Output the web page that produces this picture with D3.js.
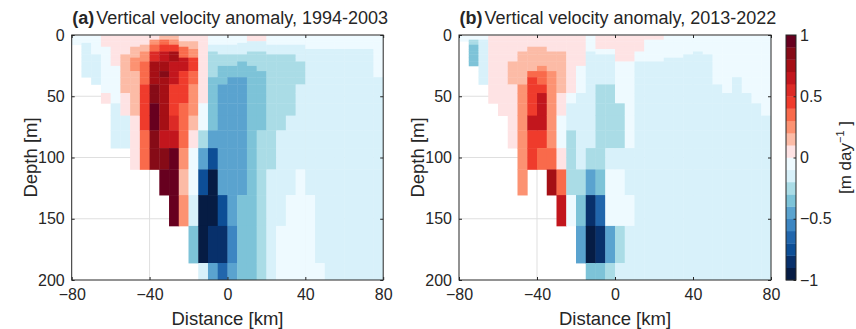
<!DOCTYPE html>
<html>
<head>
<meta charset="utf-8">
<script src="https://cdn.jsdelivr.net/npm/d3@7"></script>
<style>
body { margin: 0; background: #fff; }
text { font-family: "Liberation Sans", Arial, sans-serif; fill: #262626; }
</style>
</head>
<body>
<script>
var _ = null; // land / no data

// cell edges: distance bins (km) and model depth levels (m)
var distEdges = [-80,-75,-70,-65,-60,-55,-50,-45,-40,-35,-30,-25,-20,-15,-10,-5,0,5,10,15,20,25,30,35,40,45,50,55,60,65,70,75,80];
var depthEdges = [0.494,1.541,2.646,3.819,5.078,6.441,7.93,9.573,11.405,13.467,15.81,18.496,21.599,25.211,29.445,34.434,40.344,47.374,55.764,65.807,77.854,92.326,109.729,130.666,155.851,186.126,222.475];

var xTicks = [-80,-40,0,40,80];
var yTicks = [0,50,100,150,200];
var cbTicks = [-1,-0.5,0,0.5,1];

// 20 colour levels from -1 to 1 m/day
var levelColors = ["#061c44","#08306b","#0d4e96","#2166ac","#3d86c2","#5aa3cf","#7dc3d8","#aadce6","#d8f1fa","#eefaff",
                   "#fee3e4","#fcbba6","#fc9272","#f96a4b","#ef3b2c","#dc2a26","#c2161d","#a50f15","#860b17","#67001f"];

var titles = ["Vertical velocity anomaly, 1994-2003", "Vertical velocity anomaly, 2013-2022"];
var tags = ["(a)", "(b)"];

// vertical velocity anomaly [m/day], one line per distance bin, values top -> bottom by depth layer
var wA = [
 [-.05,-.05,-.05,-.05,-.05,-.05,_,_,_,_,_,_,_,_,_,_,_,_,_,_,_,_,_,_,_,_],
 [-.05,-.05,-.05,-.05,-.05,-.15,-.15,-.15,-.15,-.15,-.15,-.15,-.15,-.15,-.15,_,_,_,_,_,_,_,_,_,_,_],
 [-.05,-.05,-.05,-.05,-.05,-.05,-.05,-.05,-.05,-.05,-.15,-.15,-.15,-.15,-.15,-.15,_,_,_,_,_,_,_,_,_,_],
 [.05,.05,.05,.05,.05,.05,.05,-.05,-.05,-.05,-.05,-.05,-.05,-.05,-.05,-.05,-.05,.05,_,_,_,_,_,_,_,_],
 [.05,.05,.05,.05,.05,.05,.05,.05,.05,.05,.05,.05,.05,-.05,-.05,-.05,-.05,-.05,-.15,-.15,-.15,_,_,_,_,_],
 [.05,.05,.05,.05,.05,.05,.05,.05,.05,.05,.15,.15,.15,.15,.15,.15,.15,.05,.05,-.15,-.15,_,_,_,_,_],
 [.05,.05,.05,.05,.05,.05,.05,.15,.15,.15,.15,.25,.25,.25,.15,.15,.15,.15,.15,.05,.05,.05,_,_,_,_],
 [.05,.05,.05,.05,.05,.05,.15,.15,.15,.25,.25,.25,.35,.35,.35,.35,.45,.45,.45,.45,.35,.35,_,_,_,_],
 [.05,.05,.05,.25,.25,.25,.35,.35,.35,.55,.55,.55,.75,.75,.75,.75,.85,.85,.95,.95,.85,.85,_,_,_,_],
 [.15,.15,.15,.35,.35,.35,.45,.45,.45,.65,.65,.65,.75,.75,.85,.75,.75,.75,.75,.75,.65,.85,.95,_,_,_],
 [.15,.15,.15,.25,.25,.25,.45,.45,.45,.75,.75,.75,.65,.65,.65,.65,.45,.45,.45,.55,.65,.95,.95,.95,_,_],
 [.05,.05,.05,.05,.15,.15,.15,.35,.35,.35,.35,.65,.65,.65,.45,.45,.45,.45,.35,.35,.35,.25,.15,.25,_,_],
 [.05,.05,.05,.05,.15,.15,.15,.15,.25,.25,.25,.45,.45,.45,.35,.35,.25,.25,.25,.15,.05,-.05,-.05,-.15,-.35,_],
 [.05,.05,.05,.05,.05,.05,.05,.05,.05,.05,.05,.05,.05,.05,.05,.05,.05,.05,-.05,-.05,-.25,-.45,-.75,-.95,-.95,-.15],
 [-.05,-.05,-.05,-.05,-.05,-.05,-.15,-.15,-.15,-.25,-.25,-.25,-.25,-.25,-.25,-.35,-.35,-.35,-.35,-.35,-.45,-.75,-.95,-.95,-.85,-.45],
 [-.05,-.05,-.05,-.05,-.05,-.05,-.15,-.15,-.15,-.15,-.25,-.25,-.25,-.35,-.35,-.35,-.45,-.45,-.45,-.45,-.45,-.45,-.45,-.75,-.85,-.65],
 [-.05,-.05,-.05,-.05,-.05,-.05,-.15,-.15,-.15,-.15,-.25,-.25,-.25,-.35,-.35,-.45,-.45,-.45,-.45,-.45,-.45,-.45,-.45,-.45,-.55,-.45],
 [-.05,-.05,-.05,-.05,-.05,-.15,-.15,-.15,-.15,-.15,-.25,-.25,-.35,-.35,-.35,-.45,-.45,-.45,-.45,-.45,-.45,-.45,-.45,-.35,-.35,-.35],
 [.05,.05,.05,.05,-.15,-.15,-.15,-.15,-.15,-.25,-.25,-.25,-.25,-.35,-.35,-.35,-.35,-.35,-.35,-.35,-.35,-.35,-.35,-.35,-.35,-.35],
 [.05,.05,.05,.05,-.15,-.15,-.15,-.15,-.15,-.25,-.25,-.25,-.25,-.25,-.35,-.35,-.35,-.35,-.35,-.35,-.25,-.25,-.25,-.25,-.25,-.25],
 [-.05,-.05,-.05,-.05,-.05,-.05,-.15,-.15,-.15,-.15,-.25,-.25,-.25,-.25,-.25,-.25,-.25,-.25,-.25,-.25,-.25,-.25,-.15,-.15,-.15,-.15],
 [-.05,-.05,-.05,-.05,-.05,-.05,-.15,-.15,-.15,-.15,-.25,-.25,-.25,-.25,-.25,-.25,-.25,-.25,-.25,-.25,-.15,-.15,-.15,-.15,-.05,-.05],
 [-.05,-.05,-.05,-.05,-.05,-.05,-.15,-.15,-.15,-.15,-.25,-.25,-.25,-.25,-.25,-.25,-.25,-.25,-.25,-.15,-.15,-.15,-.15,-.05,-.05,-.05],
 [-.05,-.05,-.05,-.05,-.05,-.05,-.15,-.15,-.15,-.15,-.15,-.15,-.25,-.25,-.25,-.25,-.15,-.15,-.15,-.15,-.15,-.15,-.05,-.05,-.05,-.05],
 [-.05,-.05,-.05,-.05,-.05,-.05,-.05,-.05,-.15,-.15,-.15,-.15,-.15,-.15,-.15,-.15,-.15,-.15,-.15,-.15,-.15,-.15,-.15,-.05,-.05,-.05],
 [-.05,-.05,-.05,-.05,-.05,-.05,-.05,-.05,-.15,-.15,-.15,-.15,-.15,-.15,-.15,-.15,-.15,-.15,-.15,-.15,-.15,-.15,-.15,-.15,-.15,-.05],
 [-.05,-.05,-.05,-.05,-.05,-.05,-.05,-.05,-.15,-.15,-.15,-.15,-.15,-.15,-.15,-.15,-.15,-.15,-.15,-.15,-.15,-.15,-.15,-.15,-.15,-.15],
 [-.05,-.05,-.05,-.05,-.05,-.05,-.05,-.05,-.15,-.15,-.15,-.15,-.15,-.15,-.15,-.15,-.15,-.15,-.15,-.15,-.15,-.15,-.15,-.15,-.15,-.15],
 [-.05,-.05,-.05,-.05,-.05,-.05,-.05,-.05,-.15,-.15,-.15,-.15,-.15,-.15,-.15,-.15,-.15,-.15,-.15,-.15,-.15,-.15,-.15,-.15,-.15,-.15],
 [-.05,-.05,-.05,-.05,-.05,-.05,-.05,-.05,-.15,-.15,-.15,-.15,-.15,-.15,-.15,-.15,-.15,-.15,-.15,-.15,-.15,-.15,-.15,-.15,-.15,-.15],
 [-.05,-.05,-.05,-.05,-.05,-.05,-.05,-.05,-.15,-.15,-.15,-.15,-.15,-.15,-.15,-.15,-.15,-.15,-.15,-.15,-.15,-.15,-.15,-.15,-.15,-.15],
 [-.05,-.05,-.05,-.05,-.05,-.05,-.05,-.05,-.05,-.05,-.05,-.05,-.05,-.05,-.05,-.15,-.15,-.15,-.15,-.15,-.15,-.15,-.15,-.15,-.15,-.15]
];

var wB = [
 [-.05,-.05,-.05,-.05,_,_,_,_,_,_,_,_,_,_,_,_,_,_,_,_,_,_,_,_,_,_],
 [-.05,-.05,-.05,-.25,-.25,-.25,-.35,-.35,-.35,-.35,-.35,-.35,-.35,_,_,_,_,_,_,_,_,_,_,_,_,_],
 [-.05,-.05,-.05,-.15,-.15,-.15,-.15,-.15,-.15,-.15,-.15,-.15,-.15,-.15,-.15,-.15,_,_,_,_,_,_,_,_,_,_],
 [.05,.05,.05,.05,.05,.05,.05,.05,.05,.05,.05,.05,.05,.05,.05,.05,.05,.05,_,_,_,_,_,_,_,_],
 [.05,.05,.05,.05,.05,.05,.05,.05,.05,.05,.05,.05,.05,.05,.05,.05,.05,.05,.05,_,_,_,_,_,_,_],
 [.05,.05,.05,.05,.05,.05,.05,.05,.05,.05,.05,.05,.15,.15,.15,.15,.05,.05,.05,.05,.05,_,_,_,_,_],
 [.05,.05,.05,.05,.05,.05,.05,.05,.05,.15,.15,.15,.15,.15,.15,.15,.25,.25,.25,.25,.25,.25,.25,_,_,_],
 [.05,.05,.05,.05,.05,.05,.05,.15,.15,.15,.15,.15,.15,.15,.35,.45,.45,.45,.45,.65,.45,.45,_,_,_,_],
 [.05,.05,.05,.05,.05,.05,.05,.15,.15,.15,.15,.15,.15,.25,.35,.35,.45,.65,.65,.65,.45,.35,_,_,_,_],
 [.05,.05,.05,.05,.05,.05,.05,.05,.05,.15,.15,.15,.15,.15,.25,.25,.25,.25,.25,.25,.25,.35,.75,_,_,_],
 [.05,.05,.05,.05,.05,.05,.05,.05,.05,.15,.15,.15,.15,.15,.15,.15,.15,.05,.05,-.05,-.05,.05,.35,.65,_,_],
 [.05,.05,.05,.05,.05,.05,.05,.05,.05,.05,.05,.05,.05,.05,.05,.05,.05,-.05,-.15,-.15,-.25,-.25,-.25,-.05,_,_],
 [.05,.05,.05,.05,.05,.05,.05,.05,.05,.05,.05,.05,.05,-.05,-.05,-.05,-.05,-.15,-.15,-.15,-.15,-.15,-.25,-.35,-.45,_],
 [-.05,-.05,-.05,-.05,-.05,-.05,-.05,-.05,-.05,-.15,-.15,-.15,-.15,-.15,-.15,-.15,-.15,-.15,-.15,-.15,-.15,-.25,-.45,-.85,-.95,-.35],
 [.05,.05,.05,.05,.05,.05,.05,.05,-.05,-.05,-.15,-.15,-.15,-.15,-.15,-.15,-.25,-.25,-.25,-.25,-.25,-.25,-.35,-.65,-.85,-.35],
 [.05,.05,.05,.05,.05,.05,.05,.05,-.05,-.05,-.15,-.15,-.15,-.15,-.15,-.15,-.25,-.25,-.25,-.25,-.25,-.15,-.05,-.05,-.45,-.25],
 [.05,.05,.05,.05,.05,.05,.05,.05,.05,.05,.05,.05,-.05,-.05,-.05,-.05,-.05,-.05,-.25,-.25,-.25,-.15,-.05,-.05,-.25,-.15],
 [.05,.05,.05,.05,.05,.05,.05,.05,.05,.05,.05,.05,-.05,-.05,-.05,-.05,-.05,-.05,-.05,-.05,-.05,-.15,-.15,-.05,-.15,-.15],
 [.05,.05,.05,.05,.05,.05,.05,.05,.05,-.05,-.05,-.05,-.15,-.15,-.15,-.15,-.15,-.15,-.15,-.15,-.15,-.15,-.15,-.15,-.15,-.15],
 [.05,.05,.05,-.05,-.05,-.05,-.05,-.05,-.05,-.05,-.05,-.05,-.15,-.15,-.15,-.15,-.15,-.15,-.15,-.15,-.15,-.15,-.15,-.15,-.15,-.15],
 [.05,.05,.05,-.05,-.05,-.05,-.05,-.05,-.05,-.05,-.05,-.05,-.15,-.15,-.15,-.15,-.15,-.15,-.15,-.15,-.15,-.15,-.15,-.15,-.15,-.15],
 [-.05,-.05,-.05,-.05,-.05,-.05,-.05,-.05,-.05,-.05,-.05,-.15,-.15,-.15,-.15,-.15,-.15,-.15,-.15,-.15,-.15,-.15,-.15,-.15,-.15,-.15],
 [-.05,-.05,-.05,-.05,-.05,-.05,-.05,-.05,-.05,-.05,-.05,-.15,-.15,-.15,-.15,-.15,-.15,-.15,-.15,-.15,-.15,-.15,-.15,-.15,-.15,-.15],
 [-.05,-.05,-.05,-.05,-.05,-.05,-.05,-.05,-.05,-.05,-.15,-.15,-.15,-.15,-.15,-.15,-.15,-.15,-.15,-.15,-.15,-.15,-.15,-.15,-.15,-.15],
 [-.05,-.05,-.05,-.05,-.05,-.05,-.05,-.05,-.05,-.15,-.15,-.15,-.15,-.15,-.15,-.15,-.15,-.15,-.15,-.15,-.15,-.15,-.15,-.15,-.15,-.15],
 [-.05,-.05,-.05,-.05,-.05,-.05,-.05,-.05,-.05,-.05,-.15,-.15,-.15,-.15,-.15,-.15,-.15,-.15,-.15,-.15,-.15,-.15,-.15,-.15,-.15,-.15],
 [-.05,-.05,-.05,-.05,-.05,-.05,-.05,-.05,-.05,-.05,-.05,-.05,-.05,-.05,-.05,-.05,-.15,-.15,-.15,-.15,-.15,-.15,-.15,-.15,-.15,-.15],
 [-.05,-.05,-.05,-.05,-.05,-.05,-.05,-.05,-.05,-.05,-.05,-.05,-.05,-.05,-.05,-.05,-.05,-.15,-.15,-.15,-.15,-.15,-.15,-.15,-.15,-.15],
 [-.05,-.05,-.05,-.05,-.05,-.05,-.05,-.05,-.05,-.05,-.05,-.05,-.05,-.05,-.05,-.15,-.15,-.15,-.15,-.15,-.15,-.15,-.15,-.15,-.15,-.15],
 [-.05,-.05,-.05,-.05,-.05,-.05,-.05,-.05,-.05,-.05,-.05,-.05,-.05,-.05,-.05,-.05,-.05,-.15,-.15,-.15,-.15,-.15,-.15,-.15,-.15,-.15],
 [-.05,-.05,-.05,-.05,-.05,-.05,-.05,-.05,-.05,-.05,-.05,-.05,-.05,-.05,-.05,-.05,-.05,-.05,-.15,-.15,-.15,-.15,-.15,-.15,-.15,-.15],
 [-.05,-.05,-.05,-.05,-.05,-.05,-.05,-.05,-.05,-.05,-.05,-.05,-.05,-.05,-.05,-.05,-.05,-.05,-.05,-.15,-.15,-.15,-.15,-.15,-.15,-.15]
];

var width = 856, height = 329;
var plotTop = 35, plotBottom = 280;
var axisColor = "#262626";
var panels = [
  {left: 71.7, right: 383.2, data: wA},
  {left: 459, right: 771, data: wB}
];

var svg = d3.select("body").append("svg")
    .attr("width", width)
    .attr("height", height);

var yScale = d3.scaleLinear().domain([0, 200]).range([plotTop, plotBottom]);
var color = d3.scaleQuantize().domain([-1, 1]).range(levelColors);

panels.forEach(function(p, k) {
  var xScale = d3.scaleLinear().domain([-80, 80]).range([p.left, p.right]);
  var g = svg.append("g");

  svg.append("clipPath").attr("id", "clip" + k)
    .append("rect")
    .attr("x", p.left).attr("y", plotTop)
    .attr("width", p.right - p.left).attr("height", plotBottom - plotTop);

  // grid sits under the cells (only shows through the land)
  g.append("g").selectAll("line").data(xTicks.slice(1, -1)).join("line")
    .attr("x1", d => xScale(d)).attr("x2", d => xScale(d))
    .attr("y1", plotTop).attr("y2", plotBottom)
    .attr("stroke", "#dfdfdf").attr("stroke-width", 1);
  g.append("g").selectAll("line").data(yTicks.slice(1, -1)).join("line")
    .attr("x1", p.left).attr("x2", p.right)
    .attr("y1", d => yScale(d)).attr("y2", d => yScale(d))
    .attr("stroke", "#dfdfdf").attr("stroke-width", 1);

  var cells = [];
  p.data.forEach(function(col, i) {
    col.forEach(function(v, j) {
      if (v !== null) cells.push({i: i, j: j, v: v});
    });
  });

  g.append("g").attr("clip-path", "url(#clip" + k + ")")
    .selectAll("rect").data(cells).join("rect")
    .attr("x", d => xScale(distEdges[d.i]))
    .attr("y", d => yScale(depthEdges[d.j]))
    .attr("width", d => xScale(distEdges[d.i + 1]) - xScale(distEdges[d.i]) + 0.4)
    .attr("height", d => yScale(depthEdges[d.j + 1]) - yScale(depthEdges[d.j]) + 0.4)
    .attr("fill", d => color(d.v));

  // axes, ticks pointing inwards like matlab
  var fmt = d3.format("");
  var styleAxis = function(a) {
    a.select(".domain").remove();
    a.selectAll(".tick line").attr("stroke", axisColor);
    a.selectAll(".tick text").attr("fill", axisColor)
      .style("font-size", "16px").style("font-family", "'Liberation Sans', Arial, sans-serif");
  };
  g.append("g").attr("transform", `translate(0,${plotBottom})`)
    .call(d3.axisBottom(xScale).tickValues(xTicks).tickSize(-3).tickPadding(9).tickFormat(fmt))
    .call(styleAxis);
  g.append("g").attr("transform", `translate(0,${plotTop})`)
    .call(d3.axisTop(xScale).tickValues(xTicks).tickSize(-3).tickFormat(""))
    .call(styleAxis);
  g.append("g").attr("transform", `translate(${p.left},0)`)
    .call(d3.axisLeft(yScale).tickValues(yTicks).tickSize(-3).tickPadding(7).tickFormat(fmt))
    .call(styleAxis);
  g.append("g").attr("transform", `translate(${p.right},0)`)
    .call(d3.axisRight(yScale).tickValues(yTicks).tickSize(-3).tickFormat(""))
    .call(styleAxis);

  g.append("rect")
    .attr("x", p.left).attr("y", plotTop)
    .attr("width", p.right - p.left).attr("height", plotBottom - plotTop)
    .attr("fill", "none").attr("stroke", axisColor).attr("stroke-width", 1);

  var title = g.append("text")
    .attr("x", p.left + 0.5).attr("y", 24)
    .style("font-size", "18px");
  title.append("tspan").style("font-weight", "bold").text(tags[k]);
  title.append("tspan").attr("dx", 2).text(titles[k]);

  g.append("text")
    .attr("x", (p.left + p.right) / 2).attr("y", 325)
    .attr("text-anchor", "middle")
    .style("font-size", "18.5px")
    .text("Distance [km]");

  g.append("text")
    .attr("transform", `translate(${p.left - 35},${(plotTop + plotBottom) / 2}) rotate(-90)`)
    .attr("text-anchor", "middle")
    .style("font-size", "18.5px")
    .text("Depth [m]");
});

// colorbar
var cbLeft = 786, cbWidth = 10;
var cbScale = d3.scaleLinear().domain([-1, 1]).range([plotBottom, plotTop]);
var cbEdges = [-1].concat(color.thresholds(), [1]);

svg.append("g").selectAll("rect").data(levelColors).join("rect")
  .attr("x", cbLeft)
  .attr("y", (d, i) => cbScale(cbEdges[i + 1]))
  .attr("width", cbWidth)
  .attr("height", (d, i) => cbScale(cbEdges[i]) - cbScale(cbEdges[i + 1]) + 0.3)
  .attr("fill", d => d);

svg.append("g").attr("transform", `translate(${cbLeft + cbWidth},0)`)
  .call(d3.axisRight(cbScale).tickValues(cbTicks).tickSize(-2.5).tickPadding(4).tickFormat(d3.format("")))
  .call(function(a) {
    a.select(".domain").remove();
    a.selectAll(".tick line").attr("stroke", axisColor);
    a.selectAll(".tick text").attr("fill", axisColor)
      .style("font-size", "16px").style("font-family", "'Liberation Sans', Arial, sans-serif");
  });

svg.append("rect")
  .attr("x", cbLeft).attr("y", plotTop)
  .attr("width", cbWidth).attr("height", plotBottom - plotTop)
  .attr("fill", "none").attr("stroke", axisColor).attr("stroke-width", 1);

var cbLabel = svg.append("text")
  .attr("transform", `translate(851,${(plotTop + plotBottom) / 2}) rotate(-90)`)
  .attr("text-anchor", "middle")
  .style("font-size", "17px");
cbLabel.append("tspan").text("[m day");
cbLabel.append("tspan").attr("dy", -7).style("font-size", "11px").text("−1");
cbLabel.append("tspan").attr("dy", 7).text(" ]");
</script>
</body>
</html>
